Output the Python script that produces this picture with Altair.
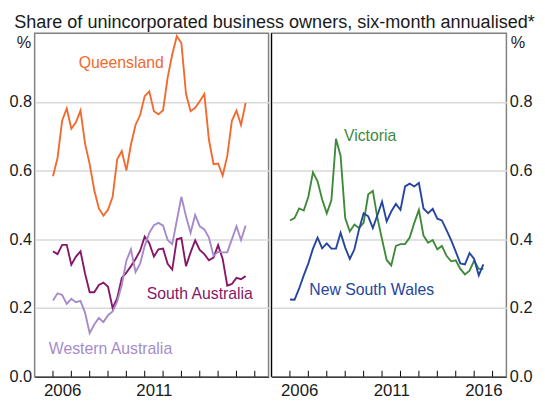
import altair as alt
import pandas as pd

FONT = "Liberation Sans"

# quarterly observations, 2006 Q1 .. 2016 Q3
years = [2006.0 + 0.25 * i for i in range(43)]

queensland = [0.584, 0.638, 0.746, 0.781, 0.722, 0.741, 0.775, 0.678, 0.619, 0.543,
              0.490, 0.469, 0.486, 0.524, 0.633, 0.657, 0.600, 0.676, 0.733, 0.762,
              0.817, 0.831, 0.773, 0.764, 0.776, 0.871, 0.938, 0.992, 0.971, 0.824,
              0.773, 0.783, 0.802, 0.823, 0.690, 0.619, 0.621, 0.586, 0.643, 0.745,
              0.775, 0.733, 0.797]
south_australia = [0.365, 0.357, 0.384, 0.384, 0.326, 0.350, 0.365, 0.300, 0.246, 0.246,
                   0.267, 0.274, 0.262, 0.200, 0.229, 0.288, 0.303, 0.322, 0.343, 0.367,
                   0.408, 0.389, 0.350, 0.371, 0.373, 0.329, 0.312, 0.400, 0.404, 0.322,
                   0.362, 0.397, 0.369, 0.357, 0.339, 0.347, 0.383, 0.343, 0.265, 0.270,
                   0.288, 0.284, 0.293]
western_australia = [0.222, 0.243, 0.238, 0.212, 0.227, 0.217, 0.221, 0.186, 0.127, 0.152,
                     0.171, 0.159, 0.179, 0.190, 0.219, 0.267, 0.338, 0.371, 0.305, 0.329,
                     0.381, 0.419, 0.441, 0.448, 0.440, 0.398, 0.386, 0.455, 0.524, 0.467,
                     0.419, 0.471, 0.438, 0.429, 0.405, 0.352, 0.364, 0.362, 0.362, 0.400,
                     0.438, 0.398, 0.440]
victoria = [0.455, 0.462, 0.490, 0.484, 0.524, 0.595, 0.569, 0.516, 0.476, 0.514,
            0.693, 0.643, 0.462, 0.423, 0.443, 0.433, 0.448, 0.531, 0.541, 0.462,
            0.400, 0.340, 0.324, 0.381, 0.386, 0.386, 0.405, 0.448, 0.486, 0.411,
            0.390, 0.398, 0.371, 0.381, 0.352, 0.336, 0.339, 0.314, 0.298, 0.309,
            0.338, 0.314, 0.314]
new_south_wales = [0.225, 0.224, 0.257, 0.295, 0.330, 0.373, 0.405, 0.374, 0.388, 0.373,
                   0.373, 0.419, 0.376, 0.343, 0.371, 0.429, 0.476, 0.467, 0.433, 0.471,
                   0.510, 0.452, 0.481, 0.503, 0.486, 0.554, 0.562, 0.554, 0.564, 0.490,
                   0.476, 0.489, 0.460, 0.455, 0.427, 0.398, 0.364, 0.330, 0.327, 0.360,
                   0.343, 0.295, 0.327]

states = ["Queensland", "South Australia", "Western Australia", "Victoria", "New South Wales"]
colors = ["#F26A2E", "#861766", "#A58BCB", "#3E8A3A", "#2545A0"]
series = [queensland, south_australia, western_australia, victoria, new_south_wales]

label_x = [2007.40, 2011.11, 2005.77, 2008.93, 2007.05]
label_y = [0.900, 0.226, 0.066, 0.686, 0.237]

tick_years = list(range(2006, 2018))
y_ticks = [0.0, 0.2, 0.4, 0.6, 0.8]
title_text = "Share of unincorporated business owners, six-month annualised*"

rows = []
for s, vals in zip(states, series):
    for yr, v in zip(years, vals):
        rows.append({"state": s, "year": yr, "value": v})
df = pd.DataFrame(rows)
labels_df = pd.DataFrame({"state": states, "x": label_x, "y": label_y})
ticks_df = pd.DataFrame({"year": tick_years})

xscale = alt.Scale(domain=[2005, 2017.75], nice=False, zero=False)
yscale = alt.Scale(domain=[0, 1], nice=False, zero=False)
cscale = alt.Scale(domain=states, range=colors)

W_LEFT, W_RIGHT, H = 237, 238, 348


def panel(names, orient, label_years, width, divider):
    xaxis = alt.Axis(values=[y + 0.5 for y in label_years], labelExpr="floor(datum.value)",
                     ticks=False, grid=False, domain=True, domainColor="#000000",
                     domainWidth=1, title=None, labelFontSize=17, labelPadding=6.5,
                     labelColor="#1a1a1a", labelFont=FONT)
    common = dict(values=y_ticks, format=".1f", grid=True, gridColor="#d9d9d9",
                  gridWidth=1.5, ticks=False, domain=False, labelFontSize=16.5,
                  labelPadding=3, labelColor="#1a1a1a", labelFont=FONT, title="%",
                  titleAngle=0, titleBaseline="top", titleY=1.5, titleFontSize=16.5,
                  titleFontWeight="normal", titleFont=FONT, titleColor="#1a1a1a")
    if orient == "left":
        yaxis = alt.Axis(orient="left", titleAlign="right", titleX=-4, **common)
    else:
        yaxis = alt.Axis(orient="right", titleAlign="left", titleX=4, **common)

    lines = alt.Chart(df[df.state.isin(names)]).mark_line(strokeWidth=1.9).encode(
        x=alt.X("year:Q", scale=xscale, axis=xaxis),
        y=alt.Y("value:Q", scale=yscale, axis=yaxis),
        color=alt.Color("state:N", scale=cscale, legend=None),
    )
    text = alt.Chart(labels_df[labels_df.state.isin(names)]).mark_text(
        align="left", baseline="alphabetic", fontSize=16, font=FONT
    ).encode(
        x=alt.X("x:Q", scale=xscale, axis=xaxis),
        y=alt.Y("y:Q", scale=yscale, axis=yaxis),
        text="state:N",
        color=alt.Color("state:N", scale=cscale, legend=None),
    )
    ticks = alt.Chart(ticks_df).mark_rule(color="#000000", strokeWidth=1).encode(
        x=alt.X("year:Q", scale=xscale, axis=xaxis),
        y=alt.value(H),
        y2=alt.value(H - 6),
    )
    layers = [lines, text, ticks]
    if divider:
        div = alt.Chart(ticks_df.head(1)).mark_rule(color="#000000", strokeWidth=1.2).encode(
            x=alt.value(0), y=alt.value(0), y2=alt.value(H)
        )
        layers.append(div)
    return alt.layer(*layers).properties(width=width, height=H)


left = panel(["Queensland", "South Australia", "Western Australia"], "left", [2006, 2011], W_LEFT, False)
right = panel(["Victoria", "New South Wales"], "right", [2006, 2011, 2016], W_RIGHT, True)

chart = alt.hconcat(left, right, spacing=0).properties(
    title=alt.TitleParams(title_text, fontSize=18.3, font=FONT, fontWeight="normal",
                          color="#1a1a1a", anchor="middle", offset=-1, dx=4),
    padding={"left": 0, "top": 2, "right": 2, "bottom": 0},
).configure_view(stroke="#808080", strokeWidth=1.5)

chart.save("out.html", embed_options={"renderer": "svg", "actions": False})
